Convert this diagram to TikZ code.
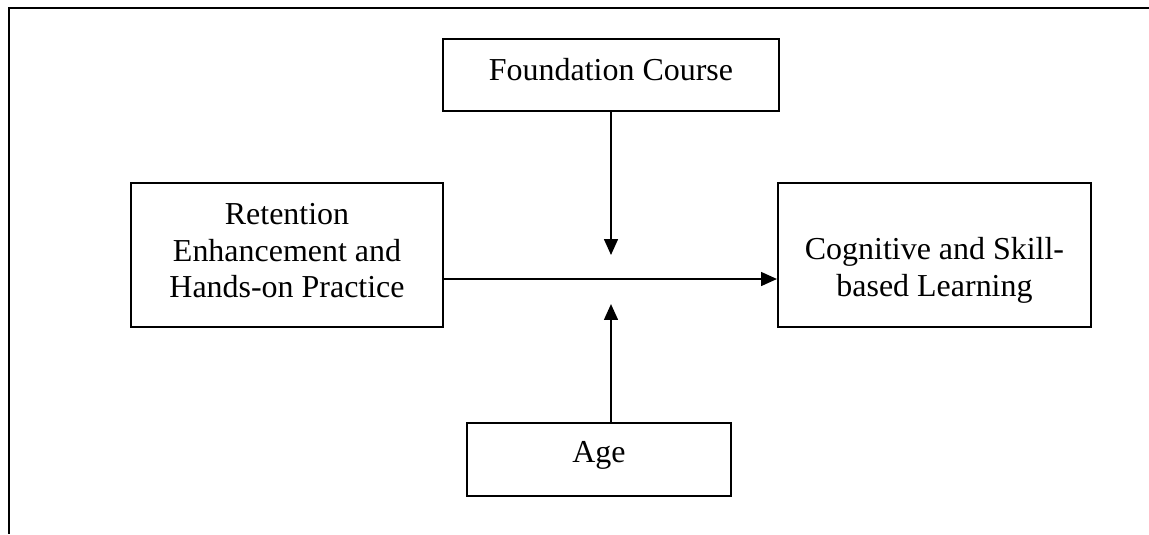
\documentclass[tikz,border=0pt]{standalone}
\usepackage{fontspec}
\setmainfont{Liberation Serif}
\usetikzlibrary{arrows.meta,positioning}
\def\px{0.0132cm}

\begin{document}
\begin{tikzpicture}[
    x=\px, y=-\px,
    font=\fontsize{12pt}{13.8pt}\selectfont,
    factorBox/.style={
        rectangle, draw=black, line width=0.75pt, align=center, inner sep=0pt
    },
    linkArrow/.style={
        -{Triangle[length=6pt, width=5.2pt]}, line width=0.75pt, draw=black
    }
]
\useasboundingbox (0,0) rectangle (1149,534);

% Outer frame (open at right and bottom)
\draw[line width=1.1pt] (1149,8) -- (9,8) -- (9,534);

% Top: moderator
\node[factorBox, minimum width=336*\px, minimum height=72*\px] (foundCourse) at (611,75) {%
    \raisebox{2pt}[\height][\depth]{Foundation Course}%
};

% Left: independent variable
\node[factorBox, minimum width=312*\px, minimum height=144*\px] (retention) at (287,255) {%
    \raisebox{0.5pt}[\height][\depth]{\begin{tabular}{@{}c@{}}Retention\\Enhancement and\\Hands-on Practice\end{tabular}}%
};

% Right: outcome
\node[factorBox, minimum width=313*\px, minimum height=144*\px] (learning) at (934.5,255) {%
    \raisebox{-6pt}[\height][\depth]{\begin{tabular}{@{}c@{}}Cognitive and Skill-\\based Learning\end{tabular}}%
};

% Bottom: moderator
\node[factorBox, minimum width=264*\px, minimum height=73*\px] (age) at (599,459.5) {%
    \raisebox{1.5pt}[\height][\depth]{Age}%
};

% Arrow ends
\coordinate (junction) at (611,279);
\coordinate (topTip) at (611,255);
\coordinate (bottomTip) at (611,304);

% Flows
\draw[linkArrow] (retention.east |- junction) -- (learning.west |- junction);
\draw[linkArrow] (foundCourse.south) -- (topTip);
\draw[linkArrow] (age.north -| bottomTip) -- (bottomTip);

\end{tikzpicture}
\end{document}
